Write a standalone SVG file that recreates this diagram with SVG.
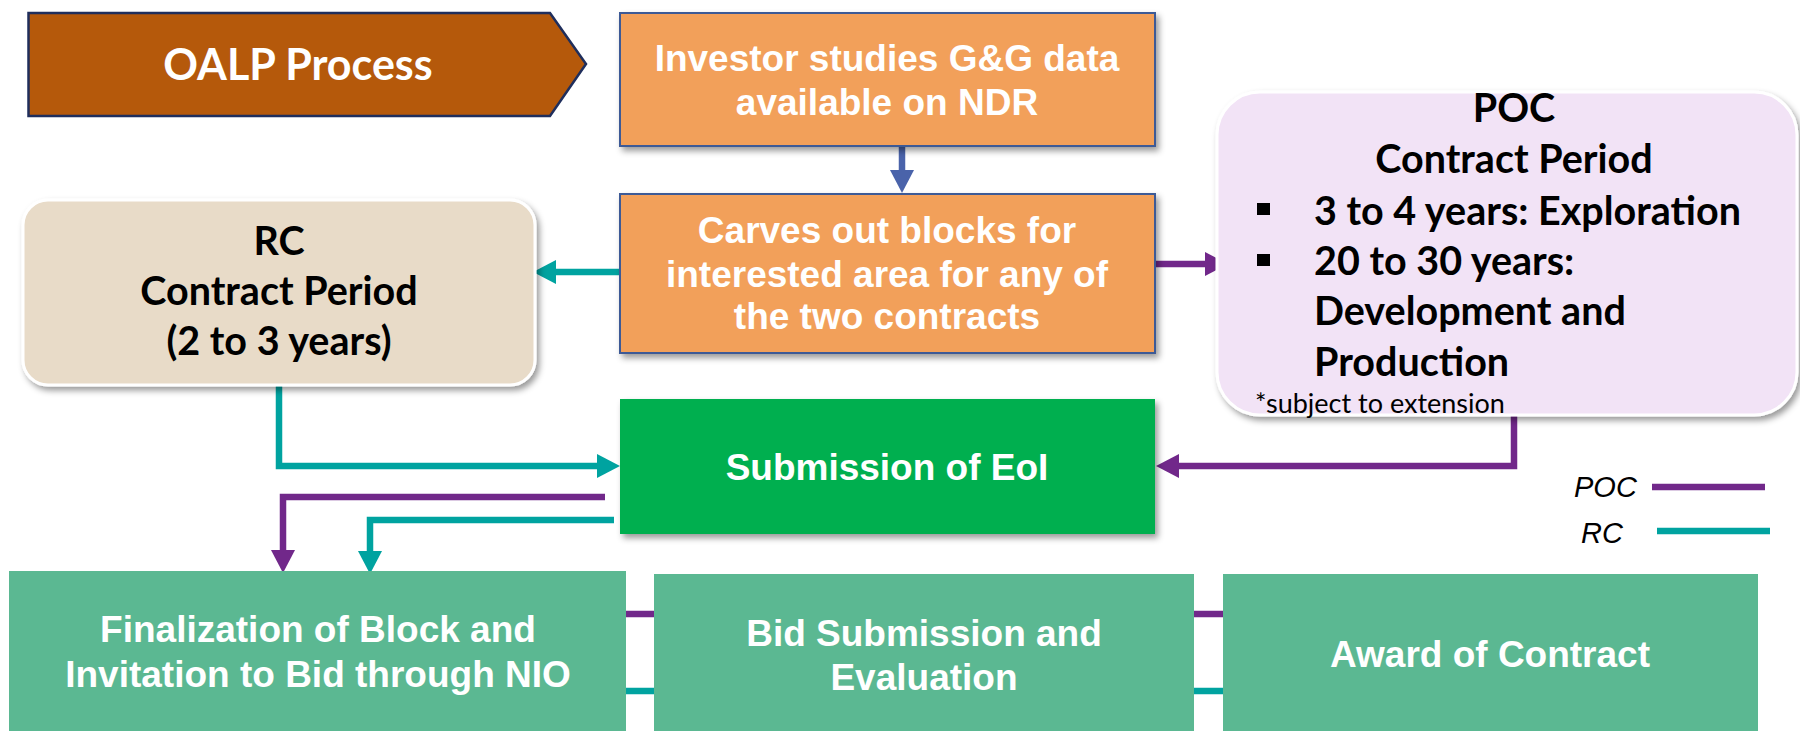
<svg xmlns="http://www.w3.org/2000/svg" width="1800" height="731" viewBox="0 0 1800 731">
<defs>
<style>
.wt{font-family:"Liberation Sans",Arial,sans-serif;font-weight:bold;font-size:37px;fill:#fff;text-anchor:middle}
.bt{font-family:Lato,"Open Sans",sans-serif;font-weight:bold;font-size:39.5px;fill:#000}
.mid{text-anchor:middle}
.leg{font-family:"Liberation Sans",Arial,sans-serif;font-style:italic;font-size:29px;fill:#000}
.con{fill:none;stroke-width:6.5}
.teal{stroke:#00A3A0}
.purp{stroke:#71288A}
.blue{stroke:#4A63AA}
</style>
<filter id="sh" x="-10%" y="-10%" width="125%" height="130%">
<feDropShadow dx="3" dy="4" stdDeviation="3" flood-color="#000" flood-opacity="0.4"/>
</filter>
<marker id="aT" markerUnits="userSpaceOnUse" markerWidth="24" markerHeight="26" refX="0" refY="12" orient="auto" viewBox="0 0 24 24"><path d="M0,0 L23,12 L0,24 z" fill="#00A3A0"/></marker>
<marker id="aP" markerUnits="userSpaceOnUse" markerWidth="24" markerHeight="26" refX="0" refY="12" orient="auto" viewBox="0 0 24 24"><path d="M0,0 L23,12 L0,24 z" fill="#71288A"/></marker>
<marker id="aB" markerUnits="userSpaceOnUse" markerWidth="24" markerHeight="26" refX="0" refY="12" orient="auto" viewBox="0 0 24 24"><path d="M0,0 L23,12 L0,24 z" fill="#4A63AA"/></marker>
</defs>
<rect width="1800" height="731" fill="#fff"/>

<g id="oalp">
<polygon points="28.5,13 550,13 586,64 550,116 28.5,116" fill="#B5590B" stroke="#1F2E5C" stroke-width="2.5"/>
<text x="298" y="80" class="bt mid" style="font-size:43px;fill:#fff">OALP Process</text>
</g>

<g id="connectors">
<path class="con blue" d="M902,146 V170" marker-end="url(#aB)"/>
<path class="con teal" d="M620,272 H556" marker-end="url(#aT)"/>
<path class="con purp" d="M1155,264 H1205" marker-end="url(#aP)"/>
<path class="con teal" d="M279,385 V466 H597" marker-end="url(#aT)"/>
<path class="con purp" d="M1514,415 V466 H1179" marker-end="url(#aP)"/>
<path class="con purp" d="M605,497 H283 V550" marker-end="url(#aP)"/>
<path class="con teal" d="M614,520 H370 V551" marker-end="url(#aT)"/>
<path class="con purp" d="M626,614 H654 M1194,614 H1223"/>
<path class="con teal" d="M626,691 H654 M1194,691 H1223"/>
</g>

<g id="investor">
<rect x="620" y="13" width="535" height="133" fill="#F2A05A" stroke="#3C5A96" stroke-width="2" filter="url(#sh)"/>
<text class="wt" x="887" y="71">Investor studies G&amp;G data</text>
<text class="wt" x="887" y="115">available on NDR</text>
</g>

<g id="carves">
<rect x="620" y="194" width="535" height="159" fill="#F2A05A" stroke="#3C5A96" stroke-width="2" filter="url(#sh)"/>
<text class="wt" x="887" y="243">Carves out blocks for</text>
<text class="wt" x="887" y="287">interested area for any of</text>
<text class="wt" x="887" y="329">the two contracts</text>
</g>

<g id="rc">
<rect x="23" y="200" width="512" height="185" rx="25" fill="#E8DBC8" stroke="#fff" stroke-width="3" filter="url(#sh)"/>
<text class="bt mid" x="279" y="255">RC</text>
<text class="bt mid" x="279" y="305">Contract Period</text>
<text class="bt mid" x="279" y="355">(2 to 3 years)</text>
</g>

<g id="poc">
<rect x="1217" y="92" width="580" height="323" rx="43" fill="#F2E3F6" stroke="#fff" stroke-width="3" filter="url(#sh)"/>
<text class="bt mid" x="1514" y="122">POC</text>
<text class="bt mid" x="1514" y="173">Contract Period</text>
<rect x="1257" y="203" width="13" height="12" fill="#000"/>
<text class="bt" x="1314" y="225">3 to 4 years: Exploration</text>
<rect x="1257" y="254" width="13" height="12" fill="#000"/>
<text class="bt" x="1314" y="275">20 to 30 years:</text>
<text class="bt" x="1314" y="325">Development and</text>
<text class="bt" x="1314" y="376">Production</text>
<text x="1255" y="413" style="font-family:Lato,'Open Sans',sans-serif;font-size:27px;fill:#000">*subject to extension</text>
</g>

<g id="eoi">
<rect x="620" y="399" width="535" height="135" fill="#00AF50" filter="url(#sh)"/>
<text class="wt" x="887" y="480">Submission of EoI</text>
</g>

<g id="finalization">
<rect x="9" y="571" width="617" height="165" fill="#5BB892"/>
<text class="wt" x="318" y="642">Finalization of Block and</text>
<text class="wt" x="318" y="687">Invitation to Bid through NIO</text>
</g>

<g id="bid">
<rect x="654" y="574" width="540" height="162" fill="#5BB892"/>
<text class="wt" x="924" y="646">Bid Submission and</text>
<text class="wt" x="924" y="690">Evaluation</text>
</g>

<g id="award">
<rect x="1223" y="574" width="535" height="162" fill="#5BB892"/>
<text class="wt" x="1490" y="667">Award of Contract</text>
</g>

<g id="legend">
<text class="leg" x="1574" y="497">POC</text>
<line class="con purp" x1="1652" y1="487" x2="1765" y2="487"/>
<text class="leg" x="1581" y="543">RC</text>
<line class="con teal" x1="1657" y1="531" x2="1770" y2="531"/>
</g>
</svg>
